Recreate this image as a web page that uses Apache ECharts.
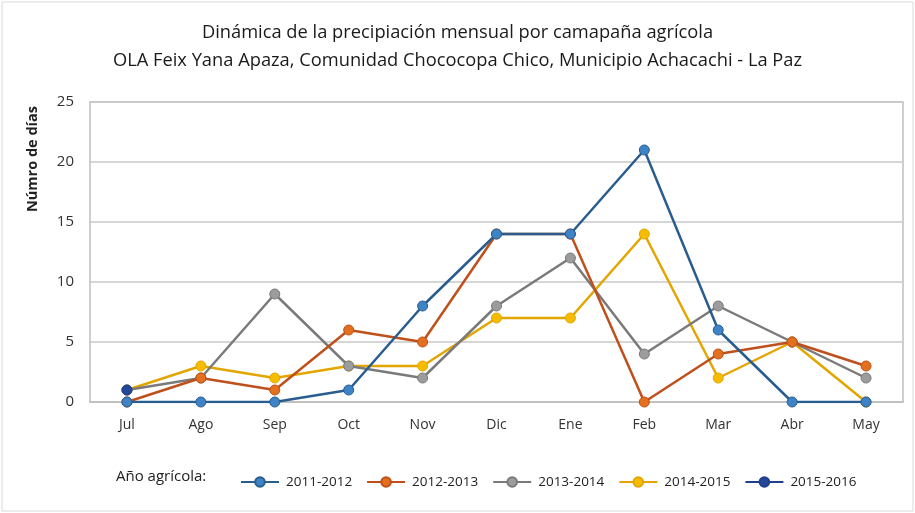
<!DOCTYPE html>
<html><head><meta charset="utf-8">
<script src="https://cdn.jsdelivr.net/npm/echarts@6/dist/echarts.min.js"></script>
<style>html,body{margin:0;padding:0;background:#fff}#c{width:915px;height:513px}</style>
</head><body><div id="c"></div>
<script>
const categories = ['Jul','Ago','Sep','Oct','Nov','Dic','Ene','Feb','Mar','Abr','May'];
const seriesNames = ['2011-2012','2012-2013','2013-2014','2014-2015','2015-2016'];
const s2011 = [0,0,0,1,8,14,14,21,6,0,0];
const s2012 = [0,2,1,6,5,14,14,0,4,5,3];
const s2013 = [1,2,9,3,2,8,12,4,8,5,2];
const s2014 = [1,3,2,3,3,7,7,14,2,5,0];
const s2015 = [1,null,null,null,null,null,null,null,null,null,null];
const yTicks = [0,5,10,15,20,25];

const lineColors = ['#2a5d8f','#bf4f1b','#7a7a7a','#e3a500','#1f3f8a'];
const markColors = ['#3d83c6','#e2701f','#9c9c9c','#f6bd00','#24479a'];
const data = [s2011,s2012,s2013,s2014,s2015];
const font = '"Open Sans", "Noto Sans", sans-serif';

const chart = echarts.init(document.getElementById('c'));
chart.setOption({
  backgroundColor:'#fff',
  animation:false,
  title:{
    text:'Dinámica de la precipiación mensual por camapaña agrícola\nOLA Feix Yana Apaza, Comunidad Chococopa Chico, Municipio Achacachi - La Paz',
    left:'center', top:14,
    textStyle:{fontFamily:font, fontSize:18.3, fontWeight:'normal', color:'#1a1a1a', lineHeight:28}
  },
  graphic:[
    {type:'rect', shape:{x:2,y:2,width:911,height:509}, style:{fill:'none',stroke:'#d9d9d9',lineWidth:1}},
    {type:'rect', shape:{x:90,y:102,width:813,height:300}, style:{fill:'none',stroke:'#bfbfbf',lineWidth:1.5}, z:0},
    {type:'text', x:33, y:159, rotation:Math.PI/2, style:{text:'Númro de días', font:'bold 14.5px '+font, fill:'#222', textAlign:'center', textVerticalAlign:'middle'}},
    {type:'text', left:116, top:469, style:{text:'Año agrícola:', font:'15px '+font, fill:'#222'}}
  ],
  legend:{
    left:235, top:470, itemWidth:38, itemHeight:12, itemGap:14,
    textStyle:{fontFamily:font, fontSize:13.5, color:'#222', padding:[0,0,0,2]},
    data:seriesNames
  },
  grid:{left:90, right:12, top:102, bottom:111},
  xAxis:{
    type:'category', data:categories, boundaryGap:true,
    axisLine:{show:true, lineStyle:{color:'#bfbfbf', width:1.5}},
    axisTick:{show:false},
    axisLabel:{fontFamily:font, fontSize:14, color:'#333', margin:16}
  },
  yAxis:{
    type:'value', min:0, max:25, interval:5,
    axisLine:{show:false}, axisTick:{show:false},
    splitLine:{lineStyle:{color:'#c8c8c8', width:1.5}},
    axisLabel:{fontFamily:font, fontSize:15, color:'#333', margin:16}
  },
  series:data.map((d,i)=>({
    name:seriesNames[i], type:'line', data:d,
    symbol:'circle', symbolSize:10,
    lineStyle:{color:lineColors[i], width:2.5},
    itemStyle:{color:markColors[i], borderColor:lineColors[i], borderWidth:1},
    z: i===4 ? 10 : 5-i
  }))
});
</script></body></html>
